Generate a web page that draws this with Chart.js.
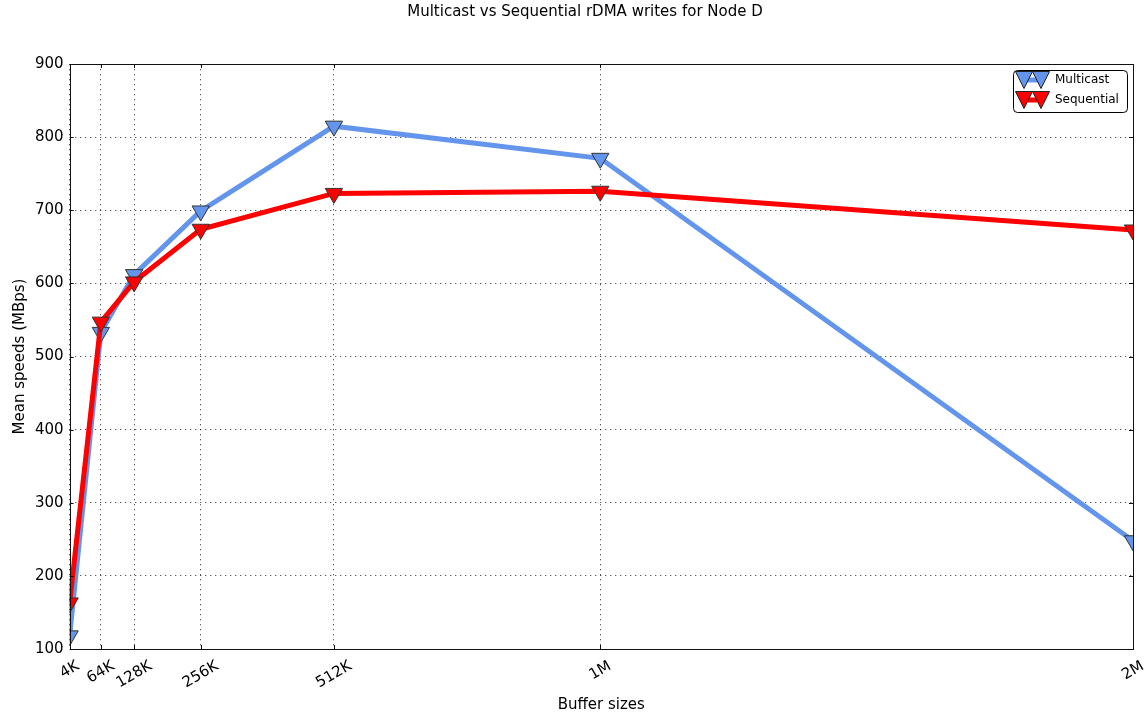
<!DOCTYPE html>
<html>
<head>
<meta charset="utf-8">
<script src="https://cdn.jsdelivr.net/npm/chart.js@4"></script>
<style>
  html, body { margin: 0; padding: 0; background: #fff; }
  #wrap { width: 1146px; height: 714px; }
</style>
</head>
<body>
<div id="wrap"><canvas id="chart1"></canvas></div>
<script>
// buffer sizes in KB, and how they are labelled
const bufferSizes = [4, 64, 128, 256, 512, 1024, 2048];
const bufferLabels = ['4K', '64K', '128K', '256K', '512K', '1M', '2M'];
const multicastSpeeds = [118, 533, 612, 699, 815, 771, 248];
const sequentialSpeeds = [163, 547, 602, 674, 723, 726, 673];
const yTicks = [100, 200, 300, 400, 500, 600, 700, 800, 900];
const chartTitle = 'Multicast vs Sequential rDMA writes for Node D';

const FONT = 'DejaVu Sans';
const blue = '#6495ED';
const red = '#FF0000';

const toPoints = vals => bufferSizes.map((x, i) => ({ x: x, y: vals[i] }));

function drawTri(ctx, x, y, color) {
  ctx.beginPath();
  ctx.moveTo(x - 8.5, y - 8.5);
  ctx.lineTo(x + 8.5, y - 8.5);
  ctx.lineTo(x, y + 8.5);
  ctx.closePath();
  ctx.fillStyle = color;
  ctx.fill();
  ctx.lineWidth = 1;
  ctx.strokeStyle = '#222';
  ctx.stroke();
}

// title, frame, inward ticks, rotated x labels and the legend box
const decorations = {
  id: 'decorations',
  afterDraw(chart) {
    const ctx = chart.ctx;
    const a = chart.chartArea;
    const xs = chart.scales.x, ys = chart.scales.y;
    ctx.save();

    ctx.font = '15px "' + FONT + '"';
    ctx.fillStyle = '#000';
    ctx.textAlign = 'center';
    ctx.textBaseline = 'middle';
    ctx.fillText(chartTitle, 585, 12);

    ctx.strokeStyle = '#111';
    ctx.lineWidth = 1;
    ctx.strokeRect(Math.round(a.left) + 0.5, Math.round(a.top) + 0.5,
      Math.round(a.right - a.left), Math.round(a.bottom - a.top));

    ctx.beginPath();
    bufferSizes.forEach(v => {
      const px = Math.round(xs.getPixelForValue(v)) + 0.5;
      ctx.moveTo(px, a.bottom); ctx.lineTo(px, a.bottom - 4);
      ctx.moveTo(px, a.top); ctx.lineTo(px, a.top + 4);
    });
    yTicks.forEach(v => {
      const py = Math.round(ys.getPixelForValue(v)) + 0.5;
      ctx.moveTo(a.left, py); ctx.lineTo(a.left + 4, py);
      ctx.moveTo(a.right, py); ctx.lineTo(a.right - 4, py);
    });
    ctx.stroke();

    // x tick labels, rotated 30deg and centred on the tick
    const ang = Math.PI / 6;
    bufferSizes.forEach((v, i) => {
      const w = ctx.measureText(bufferLabels[i]).width;
      const h = 14;
      const bh = w * Math.sin(ang) + h * Math.cos(ang);
      const px = xs.getPixelForValue(v);
      ctx.save();
      ctx.translate(px, a.bottom + 10 + bh / 2);
      ctx.rotate(-ang);
      ctx.fillText(bufferLabels[i], 0, 0);
      ctx.restore();
    });

    // legend
    const lx = 1013.5, ly = 70.5, lw = 114, lh = 42, r = 4;
    ctx.beginPath();
    ctx.moveTo(lx + r, ly);
    ctx.arcTo(lx + lw, ly, lx + lw, ly + lh, r);
    ctx.arcTo(lx + lw, ly + lh, lx, ly + lh, r);
    ctx.arcTo(lx, ly + lh, lx, ly, r);
    ctx.arcTo(lx, ly, lx + lw, ly, r);
    ctx.closePath();
    ctx.fillStyle = '#fff';
    ctx.fill();
    ctx.strokeStyle = '#000';
    ctx.stroke();
    chart.data.datasets.forEach((ds, i) => {
      const y = 80 + i * 20;
      ctx.beginPath();
      ctx.moveTo(1021, y); ctx.lineTo(1044, y);
      ctx.strokeStyle = ds.borderColor;
      ctx.lineWidth = 5;
      ctx.stroke();
      drawTri(ctx, 1024, y, ds.borderColor);
      drawTri(ctx, 1041, y, ds.borderColor);
      ctx.font = '12px "' + FONT + '"';
      ctx.fillStyle = '#000';
      ctx.textAlign = 'left';
      ctx.textBaseline = 'middle';
      ctx.fillText(ds.label, 1055, y);
    });
    ctx.restore();
  }
};

const gridStyle = {
  color: 'rgba(0,0,0,0.65)',
  lineWidth: 1,
  drawTicks: false
};
const gridBorder = { display: false, dash: [1.3, 3.7] };

new Chart(document.getElementById('chart1'), {
  type: 'line',
  data: {
    datasets: [
      {
        label: 'Multicast',
        data: toPoints(multicastSpeeds),
        borderColor: blue,
        backgroundColor: blue,
        borderWidth: 5,
        tension: 0,
        pointStyle: 'triangle',
        rotation: 180,
        radius: 10,
        hoverRadius: 10,
        pointBorderColor: '#333',
        pointBorderWidth: 1,
        order: 2
      },
      {
        label: 'Sequential',
        data: toPoints(sequentialSpeeds),
        borderColor: red,
        backgroundColor: red,
        borderWidth: 5,
        tension: 0,
        pointStyle: 'triangle',
        rotation: 180,
        radius: 10,
        hoverRadius: 10,
        pointBorderColor: '#333',
        pointBorderWidth: 1,
        order: 1
      }
    ]
  },
  options: {
    responsive: true,
    maintainAspectRatio: false,
    animation: false,
    events: [],
    layout: { padding: { left: 0, right: 13, top: 64, bottom: 0 } },
    plugins: {
      legend: { display: false },
      tooltip: { enabled: false },
      title: { display: false }
    },
    scales: {
      x: {
        type: 'linear',
        min: 4,
        max: 2048,
        afterBuildTicks: s => { s.ticks = bufferSizes.map(v => ({ value: v })); },
        ticks: { display: false },
        grid: gridStyle,
        border: gridBorder,
        title: {
          display: true,
          text: 'Buffer sizes',
          color: '#000',
          font: { family: FONT, size: 15 },
          padding: { top: 47, bottom: 0 }
        }
      },
      y: {
        min: 100,
        max: 900,
        afterBuildTicks: s => { s.ticks = yTicks.map(v => ({ value: v })); },
        ticks: {
          color: '#000',
          font: { family: FONT, size: 15 },
          padding: 6
        },
        grid: gridStyle,
        border: gridBorder,
        title: {
          display: true,
          text: 'Mean speeds (MBps)',
          color: '#000',
          font: { family: FONT, size: 15 },
          padding: { top: 11, bottom: 0 }
        }
      }
    }
  },
  plugins: [decorations]
});
</script>
</body>
</html>
